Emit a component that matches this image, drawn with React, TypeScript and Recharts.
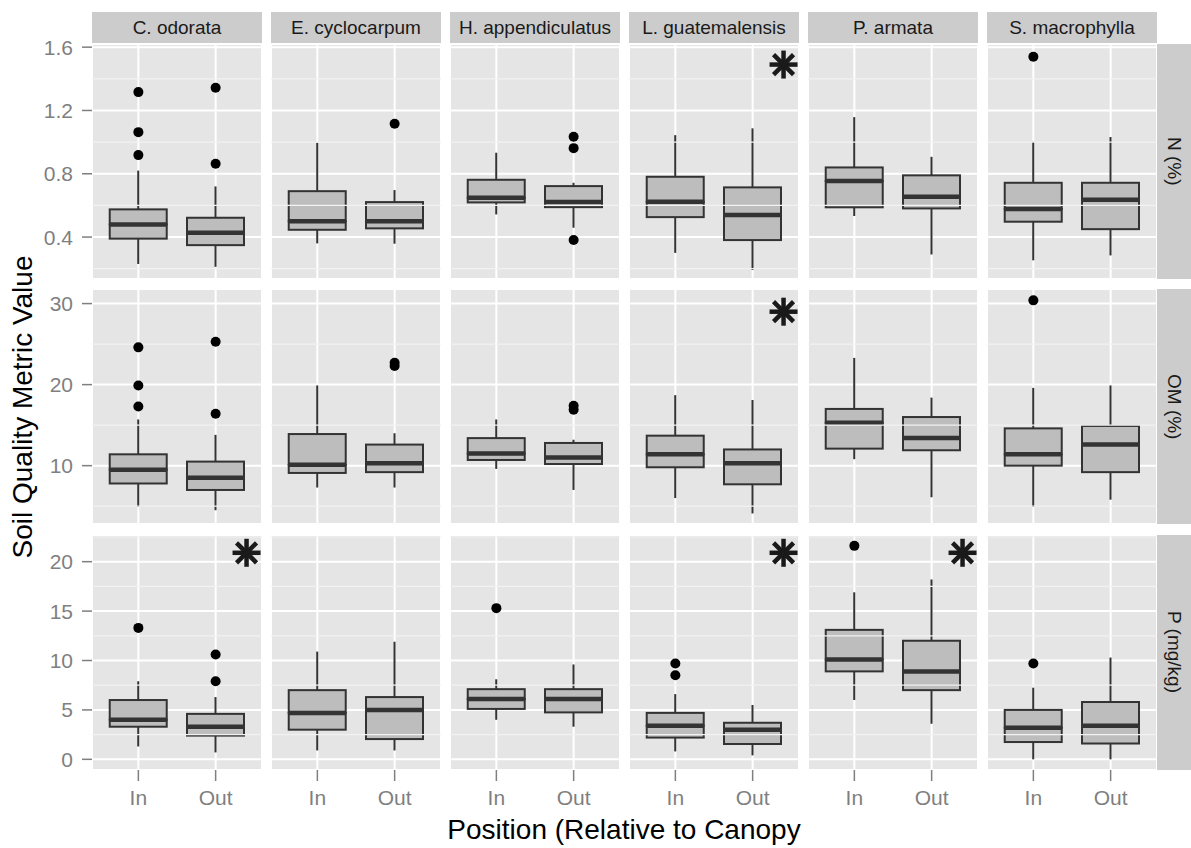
import { ComposedChart, Bar, Scatter, XAxis, YAxis, CartesianGrid, ReferenceLine, ReferenceDot } from 'recharts';

const SPECIES = ['C. odorata', 'E. cyclocarpum', 'H. appendiculatus', 'L. guatemalensis', 'P. armata', 'S. macrophylla'];
const POSITIONS = ['In', 'Out'];
const METRICS = ['N (%)', 'OM (%)', 'P (mg/kg)'];

// [lower whisker, Q1, median, Q3, upper whisker], one row per species
const N_IN = [
  [0.23, 0.39, 0.48, 0.575, 0.82],
  [0.36, 0.446, 0.5, 0.69, 0.996],
  [0.543, 0.619, 0.648, 0.762, 0.933],
  [0.3, 0.526, 0.623, 0.781, 1.044],
  [0.533, 0.588, 0.754, 0.84, 1.158],
  [0.253, 0.497, 0.577, 0.743, 1.002],
];
const N_OUT = [
  [0.212, 0.349, 0.427, 0.522, 0.72],
  [0.358, 0.455, 0.5, 0.621, 0.697],
  [0.459, 0.589, 0.621, 0.722, 0.743],
  [0.192, 0.381, 0.539, 0.714, 1.087],
  [0.29, 0.581, 0.655, 0.79, 0.907],
  [0.284, 0.45, 0.636, 0.743, 1.032],
];
const OM_IN = [
  [4.9, 7.8, 9.5, 11.4, 15.7],
  [7.3, 9.1, 10.1, 13.9, 19.9],
  [9.6, 10.7, 11.5, 13.4, 15.7],
  [6.0, 9.8, 11.4, 13.7, 18.7],
  [10.8, 12.1, 15.3, 17.0, 23.3],
  [4.9, 10.0, 11.4, 14.6, 19.6],
];
const OM_OUT = [
  [4.5, 7.0, 8.5, 10.5, 13.8],
  [7.3, 9.2, 10.3, 12.6, 14.0],
  [7.0, 10.2, 11.0, 12.8, 13.2],
  [4.1, 7.7, 10.3, 12.0, 18.1],
  [6.1, 11.9, 13.4, 16.0, 18.4],
  [5.8, 9.2, 12.6, 14.9, 19.9],
];
const P_IN = [
  [1.3, 3.3, 4.0, 6.0, 7.9],
  [0.9, 3.0, 4.7, 7.0, 10.9],
  [4.0, 5.1, 6.1, 7.1, 8.1],
  [0.8, 2.2, 3.4, 4.7, 6.6],
  [6.0, 8.9, 10.1, 13.1, 16.9],
  [0.0, 1.75, 3.2, 5.0, 7.25],
];
const P_OUT = [
  [0.7, 2.4, 3.3, 4.6, 6.3],
  [0.9, 2.05, 5.0, 6.3, 11.9],
  [3.3, 4.75, 6.1, 7.1, 9.6],
  [0.4, 1.55, 3.0, 3.7, 5.5],
  [3.6, 7.0, 8.9, 12.0, 18.2],
  [0.0, 1.6, 3.4, 5.8, 10.3],
];

// outliers per species: [In, Out]
const N_OUTLIERS = [
  [[1.316, 1.063, 0.918], [1.343, 0.863]],
  [[], [1.116]],
  [[], [1.034, 0.962, 0.381]],
  [[], []],
  [[], []],
  [[1.539], []],
];
const OM_OUTLIERS = [
  [[24.6, 19.9, 17.3], [25.3, 16.4]],
  [[], [22.7, 22.3]],
  [[], [17.4, 16.9]],
  [[], []],
  [[], []],
  [[30.4], []],
];
const P_OUTLIERS = [
  [[13.3], [10.6, 7.9]],
  [[], []],
  [[15.3], []],
  [[9.7, 8.5], []],
  [[21.6], []],
  [[9.7], []],
];

// asterisk height per species (null = not significant)
const N_SIG = [null, null, null, 1.49, null, null];
const OM_SIG = [null, null, null, 29.0, null, null];
const P_SIG = [20.9, null, null, 20.9, 20.9, null];
const SIG_X = 2.4;

const BOXES = [[N_IN, N_OUT], [OM_IN, OM_OUT], [P_IN, P_OUT]];
const OUTLIERS = [N_OUTLIERS, OM_OUTLIERS, P_OUTLIERS];
const SIGS = [N_SIG, OM_SIG, P_SIG];

const Y_AXES = [
  { domain: [0.135, 1.62], ticks: [0.4, 0.8, 1.2, 1.6], minor: [0.2, 0.6, 1.0, 1.4], fmt: (v: number) => v.toFixed(1) },
  { domain: [2.8, 31.8], ticks: [10, 20, 30], minor: [5, 15, 25], fmt: (v: number) => String(v) },
  { domain: [-1.08, 22.7], ticks: [0, 5, 10, 15, 20], minor: [2.5, 7.5, 12.5, 17.5, 22.5], fmt: (v: number) => String(v) },
];

const FONT = '"Liberation Sans", Arial, sans-serif';
const PANEL_W = 170;
const PANEL_H = 235;
const TOP_PAD = 14;
const COL_X = [92, 271, 450, 629, 808, 987];
const ROW_Y = [44, 289, 535];
const Y_AXIS_W = 52;
const X_AXIS_H = 50;
const BAR_SIZE = 57;
const INK = '#333333';

const Whisker = (p: any) => (
  <line x1={p.x + p.width / 2} x2={p.x + p.width / 2} y1={p.y} y2={p.y + p.height} stroke={INK} strokeWidth={2} />
);
const BoxLow = (p: any) => (
  <rect x={p.x} y={p.y} width={p.width} height={p.height} fill="#bdbdbd" stroke={INK} strokeWidth={2} />
);
const BoxHigh = (p: any) => (
  <g>
    <rect x={p.x} y={p.y} width={p.width} height={p.height} fill="#bdbdbd" stroke={INK} strokeWidth={2} />
    <line x1={p.x} x2={p.x + p.width} y1={p.y + p.height} y2={p.y + p.height} stroke={INK} strokeWidth={4.5} />
  </g>
);
const Dot = (p: any) => <circle cx={p.cx} cy={p.cy} r={5} fill="#000" />;
const Star = (p: any) => {
  const a = 14;
  const d = 10;
  return (
    <g stroke="#1a1a1a" strokeWidth={4.5}>
      <line x1={p.cx - a} x2={p.cx + a} y1={p.cy} y2={p.cy} />
      <line x1={p.cx} x2={p.cx} y1={p.cy - a} y2={p.cy + a} />
      <line x1={p.cx - d} x2={p.cx + d} y1={p.cy - d} y2={p.cy + d} />
      <line x1={p.cx - d} x2={p.cx + d} y1={p.cy + d} y2={p.cy - d} />
    </g>
  );
};

function Panel({ m, s }: { m: number; s: number }) {
  const showY = s === 0;
  const showX = m === 2;
  const yw = showY ? Y_AXIS_W : 0;
  const xh = showX ? X_AXIS_H : 0;
  const ax = Y_AXES[m];

  const data = POSITIONS.map((_, i) => {
    const b = BOXES[m][i][s];
    return { x: i + 1, base: b[0], wLow: b[1] - b[0], boxLow: b[2] - b[1], boxHigh: b[3] - b[2], wHigh: b[4] - b[3] };
  });
  const outliers = OUTLIERS[m][s].flatMap((vals, i) => vals.map((y) => ({ x: i + 1, y })));
  const sig = SIGS[m][s];

  return (
    <div style={{ position: 'absolute', left: COL_X[s] - yw, top: ROW_Y[m] - TOP_PAD }}>
      <div style={{ position: 'absolute', left: yw, top: TOP_PAD, width: PANEL_W, height: PANEL_H, background: '#e5e5e5' }} />
      <ComposedChart
        width={PANEL_W + yw}
        height={PANEL_H + xh + TOP_PAD}
        data={data}
        margin={{ top: TOP_PAD, right: 0, bottom: 0, left: 0 }}
      >
        {ax.minor.map((v) => (
          <ReferenceLine key={v} y={v} stroke="#f2f2f2" strokeWidth={1.2} ifOverflow="hidden" />
        ))}
        <CartesianGrid stroke="#ffffff" strokeWidth={2} />
        <XAxis
          type="number"
          dataKey="x"
          domain={[0.4, 2.6]}
          ticks={[1, 2]}
          allowDataOverflow
          hide={!showX}
          height={X_AXIS_H}
          interval={0}
          tickFormatter={(v: number) => POSITIONS[v - 1]}
          tick={{ fill: '#7f7f7f', fontSize: 21 }}
          tickLine={{ stroke: '#7f7f7f', strokeWidth: 1.5 }}
          axisLine={false}
          tickSize={11}
          tickMargin={9}
        />
        <YAxis
          type="number"
          domain={ax.domain}
          ticks={ax.ticks}
          allowDataOverflow
          hide={!showY}
          width={Y_AXIS_W}
          interval={0}
          tickFormatter={ax.fmt}
          tick={{ fill: '#7f7f7f', fontSize: 21 }}
          tickLine={{ stroke: '#7f7f7f', strokeWidth: 1.5 }}
          axisLine={false}
          tickSize={10}
          tickMargin={9}
        />
        <Bar dataKey="base" stackId="b" fill="none" barSize={BAR_SIZE} isAnimationActive={false} />
        <Bar dataKey="wLow" stackId="b" shape={Whisker} barSize={BAR_SIZE} isAnimationActive={false} />
        <Bar dataKey="boxLow" stackId="b" shape={BoxLow} barSize={BAR_SIZE} isAnimationActive={false} />
        <Bar dataKey="boxHigh" stackId="b" shape={BoxHigh} barSize={BAR_SIZE} isAnimationActive={false} />
        <Bar dataKey="wHigh" stackId="b" shape={Whisker} barSize={BAR_SIZE} isAnimationActive={false} />
        {outliers.length > 0 && <Scatter data={outliers} dataKey="y" shape={Dot} isAnimationActive={false} />}
        {sig != null && <ReferenceDot x={SIG_X} y={sig} shape={Star} />}
      </ComposedChart>
    </div>
  );
}

export default function App() {
  return (
    <div style={{ position: 'absolute', left: 0, top: 0, width: 1191, height: 848, background: '#fff', fontFamily: FONT, overflow: 'hidden' }}>
      {SPECIES.map((name, s) => (
        <div
          key={name}
          style={{
            position: 'absolute', left: COL_X[s], top: 12, width: PANEL_W, height: 32, background: '#cccccc',
            display: 'flex', alignItems: 'center', justifyContent: 'center', fontSize: 19, color: '#1a1a1a',
          }}
        >
          {name}
        </div>
      ))}
      {METRICS.map((label, m) => (
        <div
          key={label}
          style={{
            position: 'absolute', left: COL_X[5] + PANEL_W, top: ROW_Y[m], width: 34, height: PANEL_H, background: '#cccccc',
            display: 'flex', alignItems: 'center', justifyContent: 'center', fontSize: 19, color: '#1a1a1a',
            writingMode: 'vertical-rl', whiteSpace: 'nowrap',
          }}
        >
          {label}
        </div>
      ))}
      {METRICS.map((_, m) => SPECIES.map((__, s) => <Panel key={`${m}-${s}`} m={m} s={s} />))}
      <div
        style={{
          position: 'absolute', left: 23, top: 407, transform: 'translate(-50%, -50%) rotate(-90deg)',
          whiteSpace: 'nowrap', fontSize: 28, color: '#000',
        }}
      >
        Soil Quality Metric Value
      </div>
      <div
        style={{
          position: 'absolute', left: 624, top: 814, transform: 'translateX(-50%)',
          whiteSpace: 'nowrap', fontSize: 28, color: '#000',
        }}
      >
        Position (Relative to Canopy
      </div>
    </div>
  );
}
